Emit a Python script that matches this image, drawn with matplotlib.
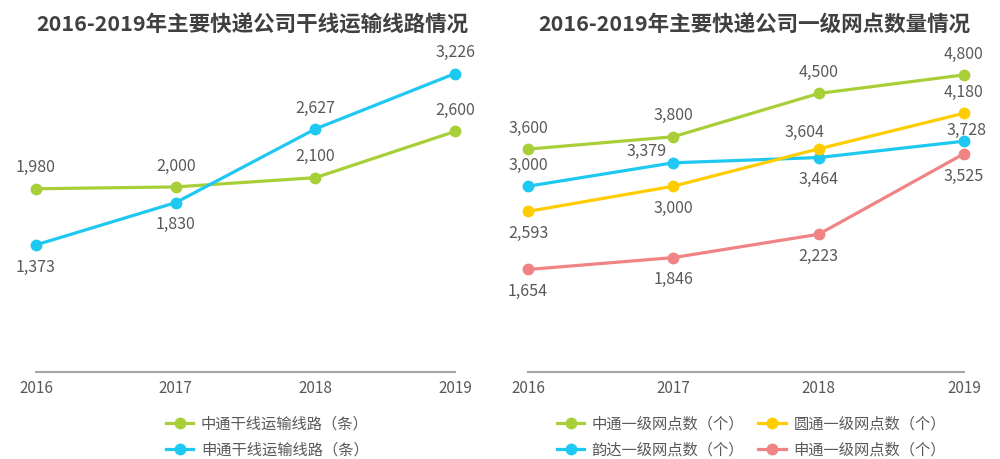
import matplotlib
matplotlib.use('Agg')
import matplotlib.pyplot as plt

plt.rcParams['font.family'] = ['Noto Sans CJK SC', 'DejaVu Sans']

years = [2016, 2017, 2018, 2019]

# left chart: trunk routes (条)
zto_routes = [1980, 2000, 2100, 2600]
sto_routes = [1373, 1830, 2627, 3226]

# right chart: first-level outlets (个)
zto_outlets = [3600, 3800, 4500, 4800]
yunda_outlets = [3000, 3379, 3464, 3728]
yto_outlets = [2593, 3000, 3604, 4180]
sto_outlets = [1654, 1846, 2223, 3525]

GREEN = '#A8CF38'
CYAN = '#1EC8F0'
YELLOW = '#FFCC00'
PINK = '#F08383'
TXT = '#595959'

fig = plt.figure(figsize=(10, 4.59), dpi=100)
ax1 = fig.add_axes([0.036, 0.19, 0.419, 0.725])
ax2 = fig.add_axes([0.528, 0.19, 0.436, 0.725])


def draw(ax, vals, color, label, places):
    ax.plot(years, vals, color=color, lw=2.3, marker='o', ms=7.5,
            label=label, clip_on=False, zorder=3)
    for x, v, p in zip(years, vals, places):
        dx, dy = p
        ax.annotate(f'{v:,}', (x, v), xytext=(dx, dy), textcoords='offset points',
                    ha='center', va='center', fontsize=11.5, color=TXT)


def style(ax, ymax):
    ax.set_xlim(2016, 2019)
    ax.set_ylim(0, ymax)
    ax.set_xticks(years)
    ax.set_xticklabels([str(y) for y in years], fontsize=11, color=TXT)
    ax.tick_params(axis='x', length=0, pad=6)
    ax.set_yticks([])
    for s in ['top', 'left', 'right']:
        ax.spines[s].set_visible(False)
    ax.spines['bottom'].set_color('#A6A6A6')
    ax.spines['bottom'].set_linewidth(1.5)


UP = (0, 15)
DN = (0, -16)
draw(ax1, zto_routes, GREEN, '中通干线运输线路（条）', [UP, UP, UP, UP])
draw(ax1, sto_routes, CYAN, '申通干线运输线路（条）', [DN, DN, UP, UP])
style(ax1, 3600)

draw(ax2, zto_outlets, GREEN, '中通一级网点数（个）', [UP, UP, UP, UP])
draw(ax2, yunda_outlets, CYAN, '韵达一级网点数（个）', [UP, (-19, 8), DN, (2, 8)])
draw(ax2, yto_outlets, YELLOW, '圆通一级网点数（个）', [DN, DN, (-10, 11.5), UP])
draw(ax2, sto_outlets, PINK, '申通一级网点数（个）', [DN, DN, DN, DN])
style(ax2, 5380)

leg_kw = dict(frameon=False, fontsize=11, handlelength=1.8, handletextpad=0.5,
              labelspacing=0.55, labelcolor=TXT)
h1, l1 = ax1.get_legend_handles_labels()
fig.legend(h1, l1, loc='center left', bbox_to_anchor=(0.152, 0.048), ncol=1, **leg_kw)
h2, l2 = ax2.get_legend_handles_labels()
fig.legend(h2, l2, loc='center left', bbox_to_anchor=(0.543, 0.048), ncol=2,
           columnspacing=0.9, **leg_kw)

fig.text(0.252, 0.946, '2016-2019年主要快递公司干线运输线路情况', ha='center', va='center',
         fontsize=15.5, fontweight='bold', color='#404040')
fig.text(0.754, 0.946, '2016-2019年主要快递公司一级网点数量情况', ha='center', va='center',
         fontsize=15.5, fontweight='bold', color='#404040')

fig.savefig('out.png', dpi=100)
